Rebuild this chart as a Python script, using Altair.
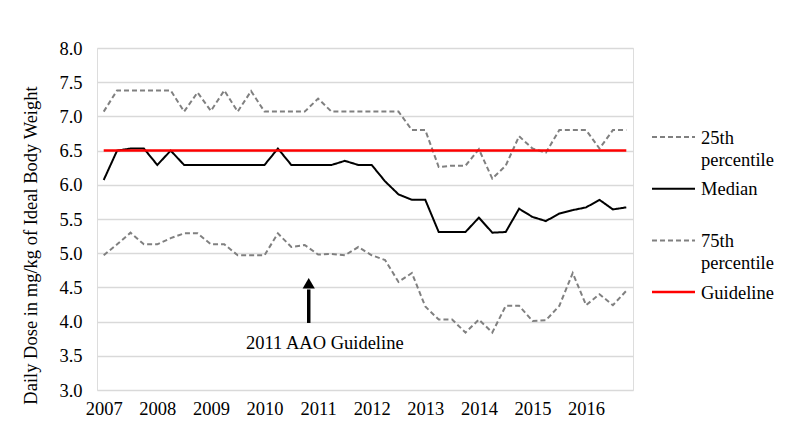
import altair as alt
import pandas as pd

# ---- data -------------------------------------------------------------
quarters = list(range(40))            # 2007 Q1 .. 2016 Q4
first_year = 2007
year_ticks = [0, 4, 8, 12, 16, 20, 24, 28, 32, 36]

p25 = [7.07, 7.38, 7.38, 7.38, 7.38, 7.38, 7.07, 7.35, 7.08, 7.38,
       7.07, 7.37, 7.07, 7.07, 7.07, 7.07, 7.26, 7.07, 7.07, 7.07,
       7.07, 7.07, 7.07, 6.80, 6.80, 6.26, 6.28, 6.28, 6.52, 6.09,
       6.28, 6.71, 6.53, 6.47, 6.80, 6.80, 6.80, 6.53, 6.80, 6.80]
median = [6.07, 6.50, 6.53, 6.53, 6.29, 6.50, 6.29, 6.29, 6.29, 6.29,
          6.29, 6.29, 6.29, 6.53, 6.29, 6.29, 6.29, 6.29, 6.35, 6.29,
          6.29, 6.05, 5.86, 5.78, 5.78, 5.31, 5.31, 5.31, 5.52, 5.30,
          5.31, 5.65, 5.53, 5.47, 5.58, 5.63, 5.67, 5.78, 5.64, 5.67]
p75 = [4.97, 5.13, 5.30, 5.13, 5.13, 5.22, 5.29, 5.29, 5.13, 5.13,
       4.97, 4.97, 4.97, 5.29, 5.09, 5.12, 4.98, 4.99, 4.97, 5.09,
       4.97, 4.90, 4.58, 4.71, 4.22, 4.03, 4.03, 3.84, 4.03, 3.84,
       4.23, 4.23, 4.01, 4.02, 4.23, 4.71, 4.24, 4.40, 4.24, 4.45]
guideline = [6.5] * 40

series_names = ["25th percentile", "Median", "75th percentile", "Guideline"]
legend_labels = ["25th\npercentile", "Median", "75th\npercentile", "Guideline"]
series_values = [p25, median, p75, guideline]
series_colors = ["#808080", "#000000", "#808080", "#ff0000"]
series_dash = [[5, 3], [1, 0], [5, 3], [1, 0]]
series_width = [2, 2, 2, 2.5]

y_ticks = [3.0, 3.5, 4.0, 4.5, 5.0, 5.5, 6.0, 6.5, 7.0, 7.5, 8.0]

annotation_text = "2011 AAO Guideline"
arrow_x = [15.3]
arrow_tail = [3.98]
arrow_head = [4.47]
arrow_tip_center = [4.56]
annotation_x = [16.5]
annotation_y = [3.69]

FONT = "Liberation Serif, Times New Roman, Times, serif"
FS = 18.5
W, H = 536, 342

# ---- axes ---------------------------------------------------------------
x_scale = alt.Scale(domain=[-0.5, 39.5], nice=False, zero=False)
y_scale = alt.Scale(domain=[3, 8], nice=False, zero=False)

x_axis = alt.Axis(values=year_ticks,
                  labelExpr=f"'' + ({first_year} + datum.value / 4)",
                  title=None, grid=False, domain=False, ticks=False,
                  labelFont=FONT, labelFontSize=FS, labelColor="#000000",
                  labelPadding=9, labelOverlap=False)
y_axis = alt.Axis(values=y_ticks, format=".1f",
                  title="Daily Dose in mg/kg of Ideal Body Weight",
                  titleFont=FONT, titleFontSize=FS, titleFontWeight="normal",
                  titleColor="#000000", titleX=-57, titleY=197,
                  labelFont=FONT, labelFontSize=FS, labelColor="#000000",
                  labelPadding=15, labelOverlap=False, labelBound=False,
                  grid=True, gridColor="#d9d9d9", gridWidth=1.3,
                  domain=False, ticks=False)


def X(field):
    return alt.X(field, scale=x_scale, axis=x_axis)


def Y(field):
    return alt.Y(field, scale=y_scale, axis=y_axis)


# ---- series layers ----------------------------------------------------
layers = []
for idx in [0, 2, 1, 3]:
    d = pd.DataFrame({"q": quarters, "value": series_values[idx],
                      "series": series_names[idx]})
    layers.append(
        alt.Chart(d).mark_line(
            color=series_colors[idx], strokeDash=series_dash[idx],
            strokeWidth=series_width[idx]
        ).encode(x=X("q:Q"), y=Y("value:Q"))
    )

# ---- annotation arrow --------------------------------------------------
arrow_df = pd.DataFrame({"q": arrow_x, "y1": arrow_tail, "y2": arrow_head,
                         "tip": arrow_tip_center})
note_df = pd.DataFrame({"q": annotation_x, "ty": annotation_y,
                        "label": [annotation_text]})
shaft = alt.Chart(arrow_df).mark_rule(color="#000000", strokeWidth=3.5).encode(
    x=X("q:Q"), y=Y("y1:Q"), y2="y2:Q")
head = alt.Chart(arrow_df).mark_point(
    shape="triangle-up", filled=True, color="#000000", opacity=1, size=150
).encode(x=X("q:Q"), y=Y("tip:Q"))
note = alt.Chart(note_df).mark_text(
    font=FONT, fontSize=FS, color="#000000", align="center", baseline="middle"
).encode(x=X("q:Q"), y=Y("ty:Q"), text="label:N")

# ---- manual legend (outside plot area, right side) ---------------------
legend_layers = []
for i, name in enumerate(series_names):
    row_y = 89 + i * 51.7
    ld = pd.DataFrame({"label": [legend_labels[i]]})
    legend_layers.append(
        alt.Chart(ld).mark_rule(
            color=series_colors[i], strokeDash=series_dash[i],
            strokeWidth=series_width[i]
        ).encode(x=alt.value(555), x2=alt.value(598), y=alt.value(row_y))
    )
    legend_layers.append(
        alt.Chart(ld).mark_text(
            font=FONT, fontSize=FS, color="#000000", align="left",
            baseline="alphabetic", lineBreak="\n", lineHeight=22.5
        ).encode(x=alt.value(604), y=alt.value(row_y + 6.5), text="label:N")
    )

chart = alt.layer(*layers, shaft, head, note, *legend_layers).properties(
    width=W, height=H,
    autosize=alt.AutoSizeParams(type="none"),
    padding={"left": 89, "top": 40, "right": 155, "bottom": 40},
).configure_view(stroke=None).configure(background="#ffffff")

chart.save("out.html", embed_options={"renderer": "svg", "actions": False})
